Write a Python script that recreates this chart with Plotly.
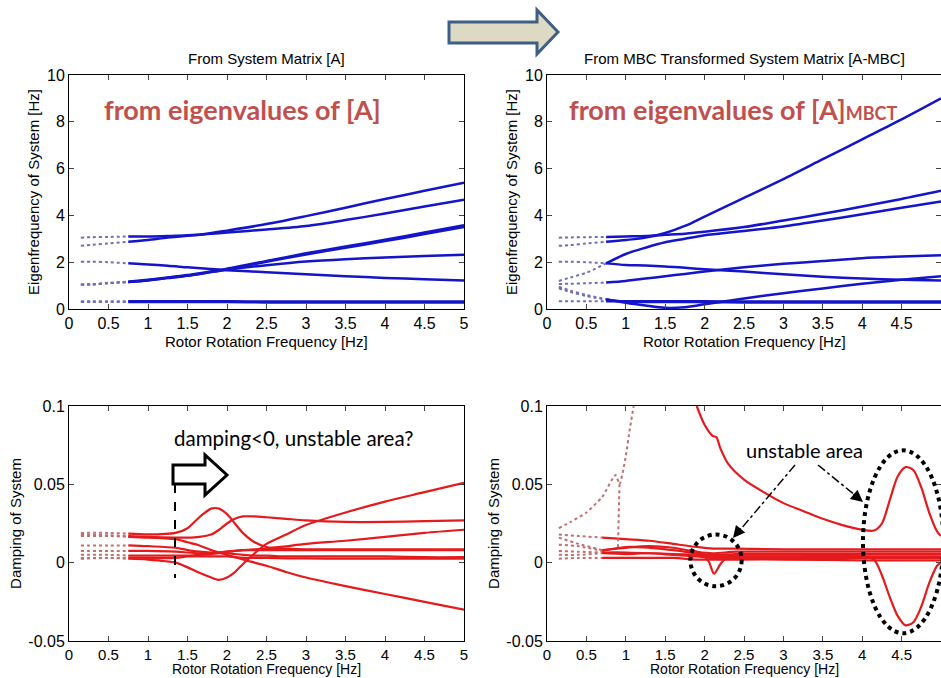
import plotly.graph_objects as go

W, H = 941, 678

# ---------------- data ----------------
X_TICKS = [0, 0.5, 1, 1.5, 2, 2.5, 3, 3.5, 4, 4.5, 5]
X_TICK_TEXT = ["0", "0.5", "1", "1.5", "2", "2.5", "3", "3.5", "4", "4.5", "5"]
Y_TICKS_TOP = [0, 2, 4, 6, 8, 10]
Y_TICKS_BOT = [-0.05, 0, 0.05, 0.1]
Y_TICK_TEXT_BOT = ["-0.05", "0", "0.05", "0.1"]

# Top panels: eigenfrequency [Hz]
X_TOP = [0.15, 0.3, 0.5, 0.75, 1.0, 1.25, 1.5, 1.75, 2.0, 2.5, 3.0, 3.5, 4.0, 4.5, 5.0]

A_low1 = [0.33, 0.33, 0.33, 0.33, 0.33, 0.33, 0.33, 0.33, 0.33, 0.32, 0.32, 0.32, 0.32, 0.32, 0.32]
A_low2 = [0.30, 0.30, 0.30, 0.30, 0.30, 0.30, 0.30, 0.30, 0.30, 0.28, 0.28, 0.28, 0.28, 0.28, 0.28]
A_up1 = [3.05, 3.07, 3.08, 3.10, 3.10, 3.12, 3.15, 3.22, 3.35, 3.63, 3.97, 4.33, 4.70, 5.05, 5.40]
A_up2 = [2.70, 2.75, 2.80, 2.87, 2.95, 3.05, 3.13, 3.20, 3.27, 3.40, 3.55, 3.80, 4.08, 4.38, 4.67]
A_mid1 = [2.02, 2.02, 2.00, 1.95, 1.90, 1.85, 1.78, 1.72, 1.66, 1.57, 1.48, 1.40, 1.33, 1.27, 1.22]
A_mid2 = [1.05, 1.05, 1.10, 1.15, 1.22, 1.32, 1.42, 1.55, 1.68, 1.87, 2.03, 2.13, 2.20, 2.26, 2.32]
A_mid3 = [1.05, 1.06, 1.12, 1.17, 1.25, 1.35, 1.45, 1.58, 1.72, 2.05, 2.38, 2.67, 2.96, 3.27, 3.58]
A_mid4 = [1.04, 1.05, 1.10, 1.15, 1.23, 1.33, 1.43, 1.56, 1.70, 2.02, 2.33, 2.62, 2.90, 3.20, 3.50]

B_low1 = [0.33, 0.33, 0.33, 0.33, 0.33, 0.33, 0.33, 0.33, 0.33, 0.32, 0.32, 0.32, 0.32, 0.32, 0.32]
B_low2 = [0.88, 0.72, 0.55, 0.40, 0.32, 0.30, 0.30, 0.30, 0.29, 0.28, 0.28, 0.28, 0.28, 0.28, 0.28]
B_up1 = [3.05, 3.06, 3.07, 3.08, 3.10, 3.12, 3.17, 3.22, 3.30, 3.50, 3.78, 4.07, 4.38, 4.70, 5.05]
B_steep = [2.70, 2.73, 2.80, 2.87, 2.95, 3.05, 3.25, 3.55, 3.95, 4.75, 5.55, 6.40, 7.25, 8.10, 9.00]
B_rise = [1.20, 1.35, 1.55, 1.95, 2.35, 2.62, 2.85, 3.00, 3.15, 3.33, 3.53, 3.78, 4.05, 4.33, 4.60]
B_mid1 = [2.02, 2.02, 2.00, 1.95, 1.88, 1.86, 1.82, 1.76, 1.70, 1.60, 1.48, 1.38, 1.30, 1.25, 1.22]
B_mid2 = [1.07, 1.08, 1.10, 1.13, 1.20, 1.30, 1.40, 1.50, 1.60, 1.78, 1.93, 2.05, 2.17, 2.24, 2.30]
B_dip = [0.95, 0.78, 0.60, 0.42, 0.27, 0.15, 0.05, 0.08, 0.20, 0.45, 0.67, 0.88, 1.08, 1.25, 1.40]

# Bottom-left: damping from [A]
X_BOT = [0.15, 0.5, 0.75, 1.0, 1.35, 1.5, 1.65, 1.8, 1.9, 2.0, 2.1, 2.2, 2.35, 2.5, 2.75, 3.0, 3.5, 4.0, 4.5, 5.0]
D_bump = [0.019, 0.019, 0.0185, 0.018, 0.019, 0.022, 0.029, 0.0345, 0.0345, 0.031, 0.025, 0.019, 0.013, 0.010, 0.009, 0.0085, 0.0085, 0.0085, 0.0085, 0.0085]
D_plat = [0.018, 0.0175, 0.017, 0.0165, 0.016, 0.016, 0.0165, 0.018, 0.021, 0.025, 0.028, 0.0295, 0.0295, 0.029, 0.028, 0.027, 0.026, 0.026, 0.0265, 0.027]
D_dip = [0.003, 0.003, 0.0025, 0.002, 0.0, -0.003, -0.0065, -0.0095, -0.011, -0.0095, -0.006, -0.001, 0.006, 0.012, 0.018, 0.024, 0.032, 0.039, 0.045, 0.051]
D_down = [0.017, 0.017, 0.0165, 0.016, 0.015, 0.013, 0.011, 0.008, 0.0065, 0.005, 0.0035, 0.002, 0.0, -0.002, -0.006, -0.0095, -0.015, -0.020, -0.025, -0.030]
D_rise = [0.011, 0.011, 0.011, 0.0105, 0.0095, 0.008, 0.007, 0.0065, 0.0065, 0.007, 0.0075, 0.008, 0.0085, 0.009, 0.0105, 0.012, 0.014, 0.0165, 0.019, 0.021]
D_flat1 = [0.0075, 0.0075, 0.0075, 0.0075, 0.007, 0.0065, 0.006, 0.006, 0.0065, 0.007, 0.0075, 0.008, 0.008, 0.008, 0.008, 0.008, 0.008, 0.008, 0.008, 0.008]
D_flat2 = [0.005, 0.005, 0.0045, 0.0045, 0.0045, 0.0045, 0.005, 0.0055, 0.006, 0.006, 0.0055, 0.005, 0.0045, 0.0045, 0.004, 0.004, 0.004, 0.004, 0.0035, 0.0035]
D_flat3 = [0.0025, 0.003, 0.003, 0.003, 0.003, 0.004, 0.004, 0.004, 0.004, 0.004, 0.0035, 0.003, 0.003, 0.003, 0.0028, 0.0027, 0.0026, 0.0026, 0.0025, 0.0025]

# Bottom-right: damping from [A]MBCT
X_R = [0.15, 0.4, 0.7, 1.0, 1.3, 1.6, 1.9, 2.1, 2.4, 3.0, 4.0, 5.0]
R_1 = [0.018, 0.017, 0.016, 0.015, 0.014, 0.012, 0.010, 0.009, 0.009, 0.0085, 0.0085, 0.0085]
R_2 = [0.016, 0.012, 0.008, 0.0095, 0.0105, 0.0095, 0.007, 0.006, 0.007, 0.007, 0.007, 0.007]
R_3 = [0.0115, 0.0105, 0.0075, 0.010, 0.0095, 0.008, 0.006, 0.005, 0.0055, 0.0055, 0.0055, 0.0055]
R_4 = [0.0075, 0.007, 0.0065, 0.0065, 0.006, 0.0055, 0.005, 0.0045, 0.004, 0.004, 0.004, 0.004]
R_5 = [0.005, 0.005, 0.006, 0.0055, 0.006, 0.005, 0.004, 0.003, 0.003, 0.003, 0.003, 0.003]
R_6 = [0.0025, 0.003, 0.003, 0.003, 0.003, 0.003, 0.002, 0.002, 0.002, 0.002, 0.0015, 0.0015]

X_STEEP = [0.15, 0.3, 0.5, 0.7, 0.87, 0.92, 1.0, 1.05, 1.1]
Y_STEEP = [0.022, 0.026, 0.032, 0.042, 0.056, 0.050, 0.068, 0.085, 0.1]
X_DROP = [0.92, 0.915, 0.91, 0.905, 0.9]
Y_DROP = [0.050, 0.040, 0.030, 0.020, 0.010]

X_BIG = [1.9, 2.0, 2.1, 2.15, 2.2, 2.3, 2.5, 2.75, 3.0, 3.25, 3.5, 3.75, 4.0, 4.15, 4.25, 4.35, 4.45, 4.55, 4.65, 4.75, 4.85, 4.95, 5.0]
Y_BIG = [0.1, 0.088, 0.081, 0.080, 0.073, 0.063, 0.053, 0.045, 0.038, 0.033, 0.028, 0.024, 0.021, 0.0205, 0.025, 0.040, 0.055, 0.061, 0.059, 0.048, 0.032, 0.020, 0.017]
X_NEG = [2.0, 3.0, 4.0, 4.15, 4.25, 4.35, 4.45, 4.55, 4.65, 4.75, 4.85, 4.95, 5.0]
Y_NEG = [0.004, 0.004, 0.004, 0.002, -0.008, -0.022, -0.034, -0.040, -0.038, -0.028, -0.013, -0.002, 0.0]
X_V = [1.8, 1.95, 2.05, 2.12, 2.2, 2.3, 2.5]
Y_V = [0.008, 0.006, 0.001, -0.007, -0.001, 0.004, 0.006]

X_TITLE = "Rotor Rotation Frequency [Hz]"

BLUE = "#1414c8"
BLUE_DOT = "#7070b8"
RED = "#e41a1c"
RED_DOT = "#c07070"
FONT = "Liberation Sans, Arial, sans-serif"

fig = go.Figure()


def add_curve(xs, ys, xa, ya, color, dotcolor, width):
    k = next(i for i, v in enumerate(xs) if v >= 0.6)
    fig.add_trace(go.Scatter(x=xs[:k + 1], y=ys[:k + 1], mode="lines", xaxis=xa, yaxis=ya,
                             line=dict(color=dotcolor, width=2, dash="dot", shape="spline", smoothing=0.8),
                             showlegend=False, hoverinfo="skip"))
    fig.add_trace(go.Scatter(x=xs[k:], y=ys[k:], mode="lines", xaxis=xa, yaxis=ya,
                             line=dict(color=color, width=width, shape="spline", smoothing=0.8),
                             showlegend=False, hoverinfo="skip"))


for c in [A_low1, A_low2, A_up1, A_up2, A_mid1, A_mid2, A_mid3, A_mid4]:
    add_curve(X_TOP, c, "x", "y", BLUE, BLUE_DOT, 2.5)
for c in [B_low1, B_low2, B_up1, B_steep, B_rise, B_mid1, B_mid2, B_dip]:
    add_curve(X_TOP, c, "x2", "y2", BLUE, BLUE_DOT, 2.5)
for c in [D_bump, D_plat, D_dip, D_down, D_rise, D_flat1, D_flat2, D_flat3]:
    add_curve(X_BOT, c, "x3", "y3", RED, RED_DOT, 2.2)
for c in [R_1, R_2, R_3, R_4, R_5, R_6]:
    add_curve(X_R, c, "x4", "y4", RED, RED_DOT, 2.2)

fig.add_trace(go.Scatter(x=X_STEEP, y=Y_STEEP, mode="lines", xaxis="x4", yaxis="y4",
                         line=dict(color=RED_DOT, width=2, dash="dot", shape="spline", smoothing=0.6),
                         showlegend=False, hoverinfo="skip"))
fig.add_trace(go.Scatter(x=X_DROP, y=Y_DROP, mode="lines", xaxis="x4", yaxis="y4",
                         line=dict(color=RED_DOT, width=2, dash="dot"),
                         showlegend=False, hoverinfo="skip"))
for xs, ys in [(X_BIG, Y_BIG), (X_NEG, Y_NEG), (X_V, Y_V)]:
    fig.add_trace(go.Scatter(x=xs, y=ys, mode="lines", xaxis="x4", yaxis="y4",
                             line=dict(color=RED, width=2.2, shape="spline", smoothing=0.8),
                             showlegend=False, hoverinfo="skip"))


# ---------------- layout ----------------
def px(x):
    return x / W


def py(y):
    return 1 - y / H


XD_L = [px(69), px(464)]
XD_R = [px(547), 1.0]
YD_T = [py(309), py(75)]
YD_B = [py(641), py(406)]

tickfont = dict(family=FONT, size=16, color="black")
tickfont_bot = dict(family=FONT, size=15, color="black")
titlefont = dict(family=FONT, size=15, color="black")
titlefont_bot = dict(family=FONT, size=14, color="black")


def xax(domain, anchor, tf):
    return dict(domain=domain, anchor=anchor, range=[0, 5], tickvals=X_TICKS, ticktext=X_TICK_TEXT,
                ticks="inside", ticklen=5, showline=True, linecolor="black", linewidth=1,
                mirror="ticks", showgrid=False, zeroline=False, tickfont=tf,
                automargin=False)


def yax(domain, anchor, rng, tv, tt, title, standoff):
    return dict(domain=domain, anchor=anchor, range=rng, tickvals=tv, ticktext=tt,
                ticks="inside", ticklen=5, showline=True, linecolor="black", linewidth=1,
                mirror="ticks", showgrid=False, zeroline=False, tickfont=tickfont,
                automargin=False,
                title=dict(text=title, font=titlefont, standoff=standoff))


fig.update_layout(
    template="none",
    width=W, height=H,
    margin=dict(l=0, r=0, t=0, b=0),
    paper_bgcolor="white", plot_bgcolor="white",
    showlegend=False,
    xaxis=xax(XD_L, "y", tickfont),
    yaxis=yax(YD_T, "x", [0, 10], Y_TICKS_TOP, [str(v) for v in Y_TICKS_TOP], "Eigenfrequency of System [Hz]", 3),
    xaxis2=xax(XD_R, "y2", tickfont),
    yaxis2=yax(YD_T, "x2", [0, 10], Y_TICKS_TOP, [str(v) for v in Y_TICKS_TOP], "Eigenfrequency of System [Hz]", 3),
    xaxis3=xax(XD_L, "y3", tickfont_bot),
    yaxis3=yax(YD_B, "x3", [-0.05, 0.1], Y_TICKS_BOT, Y_TICK_TEXT_BOT, "Damping of System", 3),
    xaxis4=xax(XD_R, "y4", tickfont_bot),
    yaxis4=yax(YD_B, "x4", [-0.05, 0.1], Y_TICKS_BOT, Y_TICK_TEXT_BOT, "Damping of System", 3),
)

ann = []
# x-axis titles
for dom, ypix, tf in [(XD_L, 341, titlefont), (XD_R, 341, titlefont),
                      (XD_L, 669, titlefont_bot), (XD_R, 669, titlefont_bot)]:
    ann.append(dict(text=X_TITLE, x=(dom[0] + dom[1]) / 2, y=py(ypix), xref="paper", yref="paper",
                    xanchor="center", yanchor="middle", showarrow=False, borderpad=0, font=tf))
ann.append(dict(text="From System Matrix [A]", x=(XD_L[0] + XD_L[1]) / 2, y=py(59), xref="paper", yref="paper",
                xanchor="center", yanchor="middle",
                showarrow=False, font=dict(family=FONT, size=15, color="black")))
ann.append(dict(text="From MBC Transformed System Matrix [A-MBC]", x=(XD_R[0] + XD_R[1]) / 2, y=py(59),
                xref="paper", yref="paper", xanchor="center", yanchor="middle",
                showarrow=False, font=dict(family=FONT, size=15, color="black")))
ann.append(dict(text="<b>from eigenvalues of [A]</b>", x=px(102), y=py(110), xref="paper", yref="paper",
                xanchor="left", yanchor="middle", showarrow=False,
                font=dict(family="Lato, sans-serif", size=27, color="#c0504d")))
ann.append(dict(text="<b>from eigenvalues of [A]<span style='font-size:18px'>MBCT</span></b>", x=px(567), y=py(110),
                xref="paper", yref="paper", xanchor="left", yanchor="middle", showarrow=False,
                font=dict(family="Lato, sans-serif", size=27, color="#c0504d")))
ann.append(dict(text="damping<0, unstable area?", x=px(172), y=py(438), xref="paper", yref="paper",
                xanchor="left", yanchor="middle", showarrow=False,
                font=dict(family="Lato, sans-serif", size=20.5, color="black")))
ann.append(dict(text="unstable area", x=px(744), y=py(450), xref="paper", yref="paper",
                xanchor="left", yanchor="middle", showarrow=False,
                font=dict(family="Lato, sans-serif", size=20, color="black")))
# arrowheads for dash-dot pointers
ann.append(dict(text="", x=px(733), y=py(538), xref="paper", yref="paper", showarrow=True,
                arrowhead=2, arrowsize=1.2, arrowwidth=2, arrowcolor="black", ax=9, ay=-11))
ann.append(dict(text="", x=px(863), y=py(502), xref="paper", yref="paper", showarrow=True,
                arrowhead=2, arrowsize=1.2, arrowwidth=2, arrowcolor="black", ax=-11, ay=-9))
fig.update_layout(annotations=ann)


def path(points):
    s = "M " + " L ".join(f"{px(a):.5f},{py(b):.5f}" for a, b in points) + " Z"
    return s


shapes = []
# big arrow at top
shapes.append(dict(type="path", xref="paper", yref="paper",
                   path=path([(449, 22), (537, 22), (537, 10), (558, 32), (537, 54), (537, 43), (449, 43)]),
                   fillcolor="#ddd9c3", line=dict(color="#3d5f86", width=3)))
# hollow arrow bottom-left
shapes.append(dict(type="path", xref="paper", yref="paper",
                   path=path([(173, 465), (205, 465), (205, 455), (227, 475), (205, 495), (205, 484), (173, 484)]),
                   fillcolor="white", line=dict(color="black", width=3)))
# dashed vertical marker
shapes.append(dict(type="line", xref="paper", yref="paper", x0=px(175), x1=px(175), y0=py(484), y1=py(578),
                   line=dict(color="black", width=2, dash="dash")))
# dotted ellipses bottom-right
shapes.append(dict(type="circle", xref="x4", yref="y4", x0=1.82, x1=2.47, y0=-0.015, y1=0.018,
                   line=dict(color="black", width=4, dash="dot")))
shapes.append(dict(type="circle", xref="x4", yref="y4", x0=4.01, x1=5.03, y0=-0.045, y1=0.0717,
                   line=dict(color="black", width=4, dash="dot")))
# dash-dot pointer lines
shapes.append(dict(type="line", xref="paper", yref="paper", x0=px(795), y0=py(465), x1=px(735), y1=py(536),
                   line=dict(color="black", width=1.5, dash="dashdot")))
shapes.append(dict(type="line", xref="paper", yref="paper", x0=px(818), y0=py(465), x1=px(861), y1=py(500),
                   line=dict(color="black", width=1.5, dash="dashdot")))
fig.update_layout(shapes=shapes)

fig.write_html("out.html", config={"displayModeBar": False},
               post_script="document.body.style.margin='0';document.body.style.overflow='hidden';")
